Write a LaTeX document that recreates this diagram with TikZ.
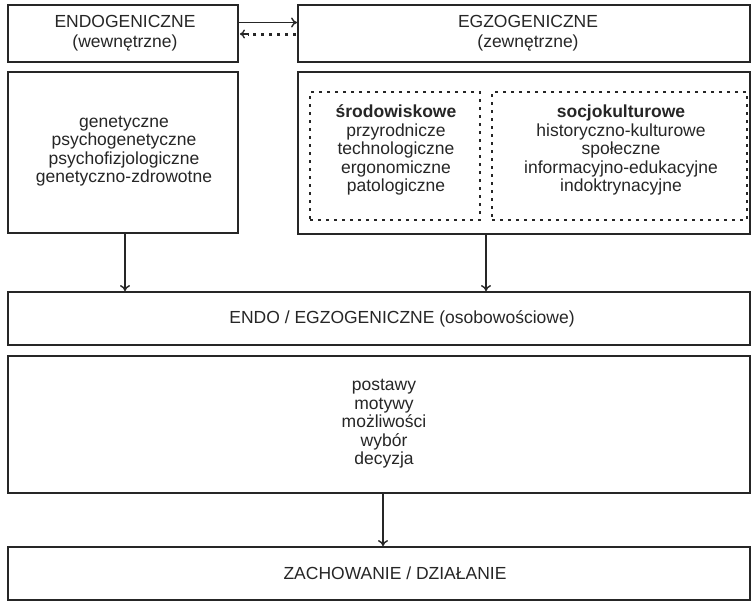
\documentclass[tikz,border=0pt]{standalone}
\usepackage{fontspec}
\setmainfont{Liberation Sans}
\usetikzlibrary{arrows.meta}
\definecolor{ink}{HTML}{262626}
\tikzset{
  box/.style={draw=ink, line width=1.8pt, rectangle, inner sep=0pt, align=center, text=ink,
    font=\fontsize{17.5}{18.5}\selectfont},
  dotbox/.style={draw=ink, line width=2.8pt, dash pattern=on 2.8pt off 5.2pt},
  txt/.style={align=center, text=ink, inner sep=0pt, font=\fontsize{17.5}{18.5}\selectfont},
  arr/.style={draw=ink, line width=1.7pt, -{To[length=6pt,width=10pt,line width=1.4pt]}},
  dotarr/.style={draw=ink, line width=3pt, dash pattern=on 3pt off 5pt},
}
\begin{document}
\begin{tikzpicture}[x=1pt,y=1pt]
\useasboundingbox (0,0) rectangle (752,-606);
\fill[white] (0,0) rectangle (752,-606);
% top boxes
\node[box, minimum width=230pt, minimum height=57pt] (endo) at (123,-33.5) {};
\node[txt] (endot) at (125,-33.5) {ENDOGENICZNE\\[1.5pt](wewnętrzne)};
\node[box, minimum width=452pt, minimum height=57pt] (egzo) at (524,-33.5) {};
\node[txt] (egzot) at (528,-33.5) {EGZOGENICZNE\\[1.5pt](zewnętrzne)};
% arrows between top boxes
\coordinate (ea) at (endo.east |- 0,-22.5);
\coordinate (ga) at (egzo.west |- 0,-22.5);
\coordinate (eb) at (endo.east |- 0,-34);
\coordinate (gb) at (egzo.west |- 0,-34);
\draw[arr] (ea) -- (ga);
\draw[dotarr] ([xshift=-1pt]gb) -- ([xshift=9pt]eb);
\draw[draw=ink, line width=1.5pt, {To[length=5pt,width=9pt,line width=1.3pt]}-] ([xshift=1pt]eb) -- ([xshift=9pt]eb);
% middle boxes
\node[box, minimum width=230pt, minimum height=161pt] (gen) at (123,-152.5) {};
\node[txt] (gent) at (124,-151) {genetyczne\\psychogenetyczne\\psychofizjologiczne\\genetyczno-zdrowotne};
\node[box, minimum width=452pt, minimum height=162pt] (ext) at (524,-153) {};
\node[dotbox, minimum width=170pt, minimum height=128pt] (srod) at (395,-156) {};
\node[dotbox, minimum width=255pt, minimum height=128pt] (socj) at (619.5,-156) {};
\node[txt] (srodt) at (396,-150) {\textbf{środowiskowe}\\przyrodnicze\\technologiczne\\ergonomiczne\\patologiczne};
\node[txt] (socjt) at (621,-150) {\textbf{socjokulturowe}\\historyczno-kulturowe\\społeczne\\informacyjno-edukacyjne\\indoktrynacyjne};
% lower boxes
\node[box, minimum width=742pt, minimum height=53pt] (osob) at (379,-318.5) {};
\node[txt] (osobt) at (402,-318.5) {ENDO / EGZOGENICZNE (osobowościowe)};
\node[box, minimum width=742pt, minimum height=137pt] (post) at (379,-424.5) {};
\node[txt] (postt) at (384,-424) {postawy\\motywy\\możliwości\\wybór\\decyzja};
\node[box, minimum width=742pt, minimum height=53pt] (zach) at (379,-573.5) {};
\node[txt] (zacht) at (395,-573.5) {ZACHOWANIE / DZIAŁANIE};
% vertical arrows
\draw[arr] (gen.south -| 125,0) -- (osob.north -| 125,0);
\draw[arr] (ext.south -| 486,0) -- (osob.north -| 486,0);
\draw[arr] (post.south -| 383,0) -- (zach.north -| 383,0);
\end{tikzpicture}
\end{document}
